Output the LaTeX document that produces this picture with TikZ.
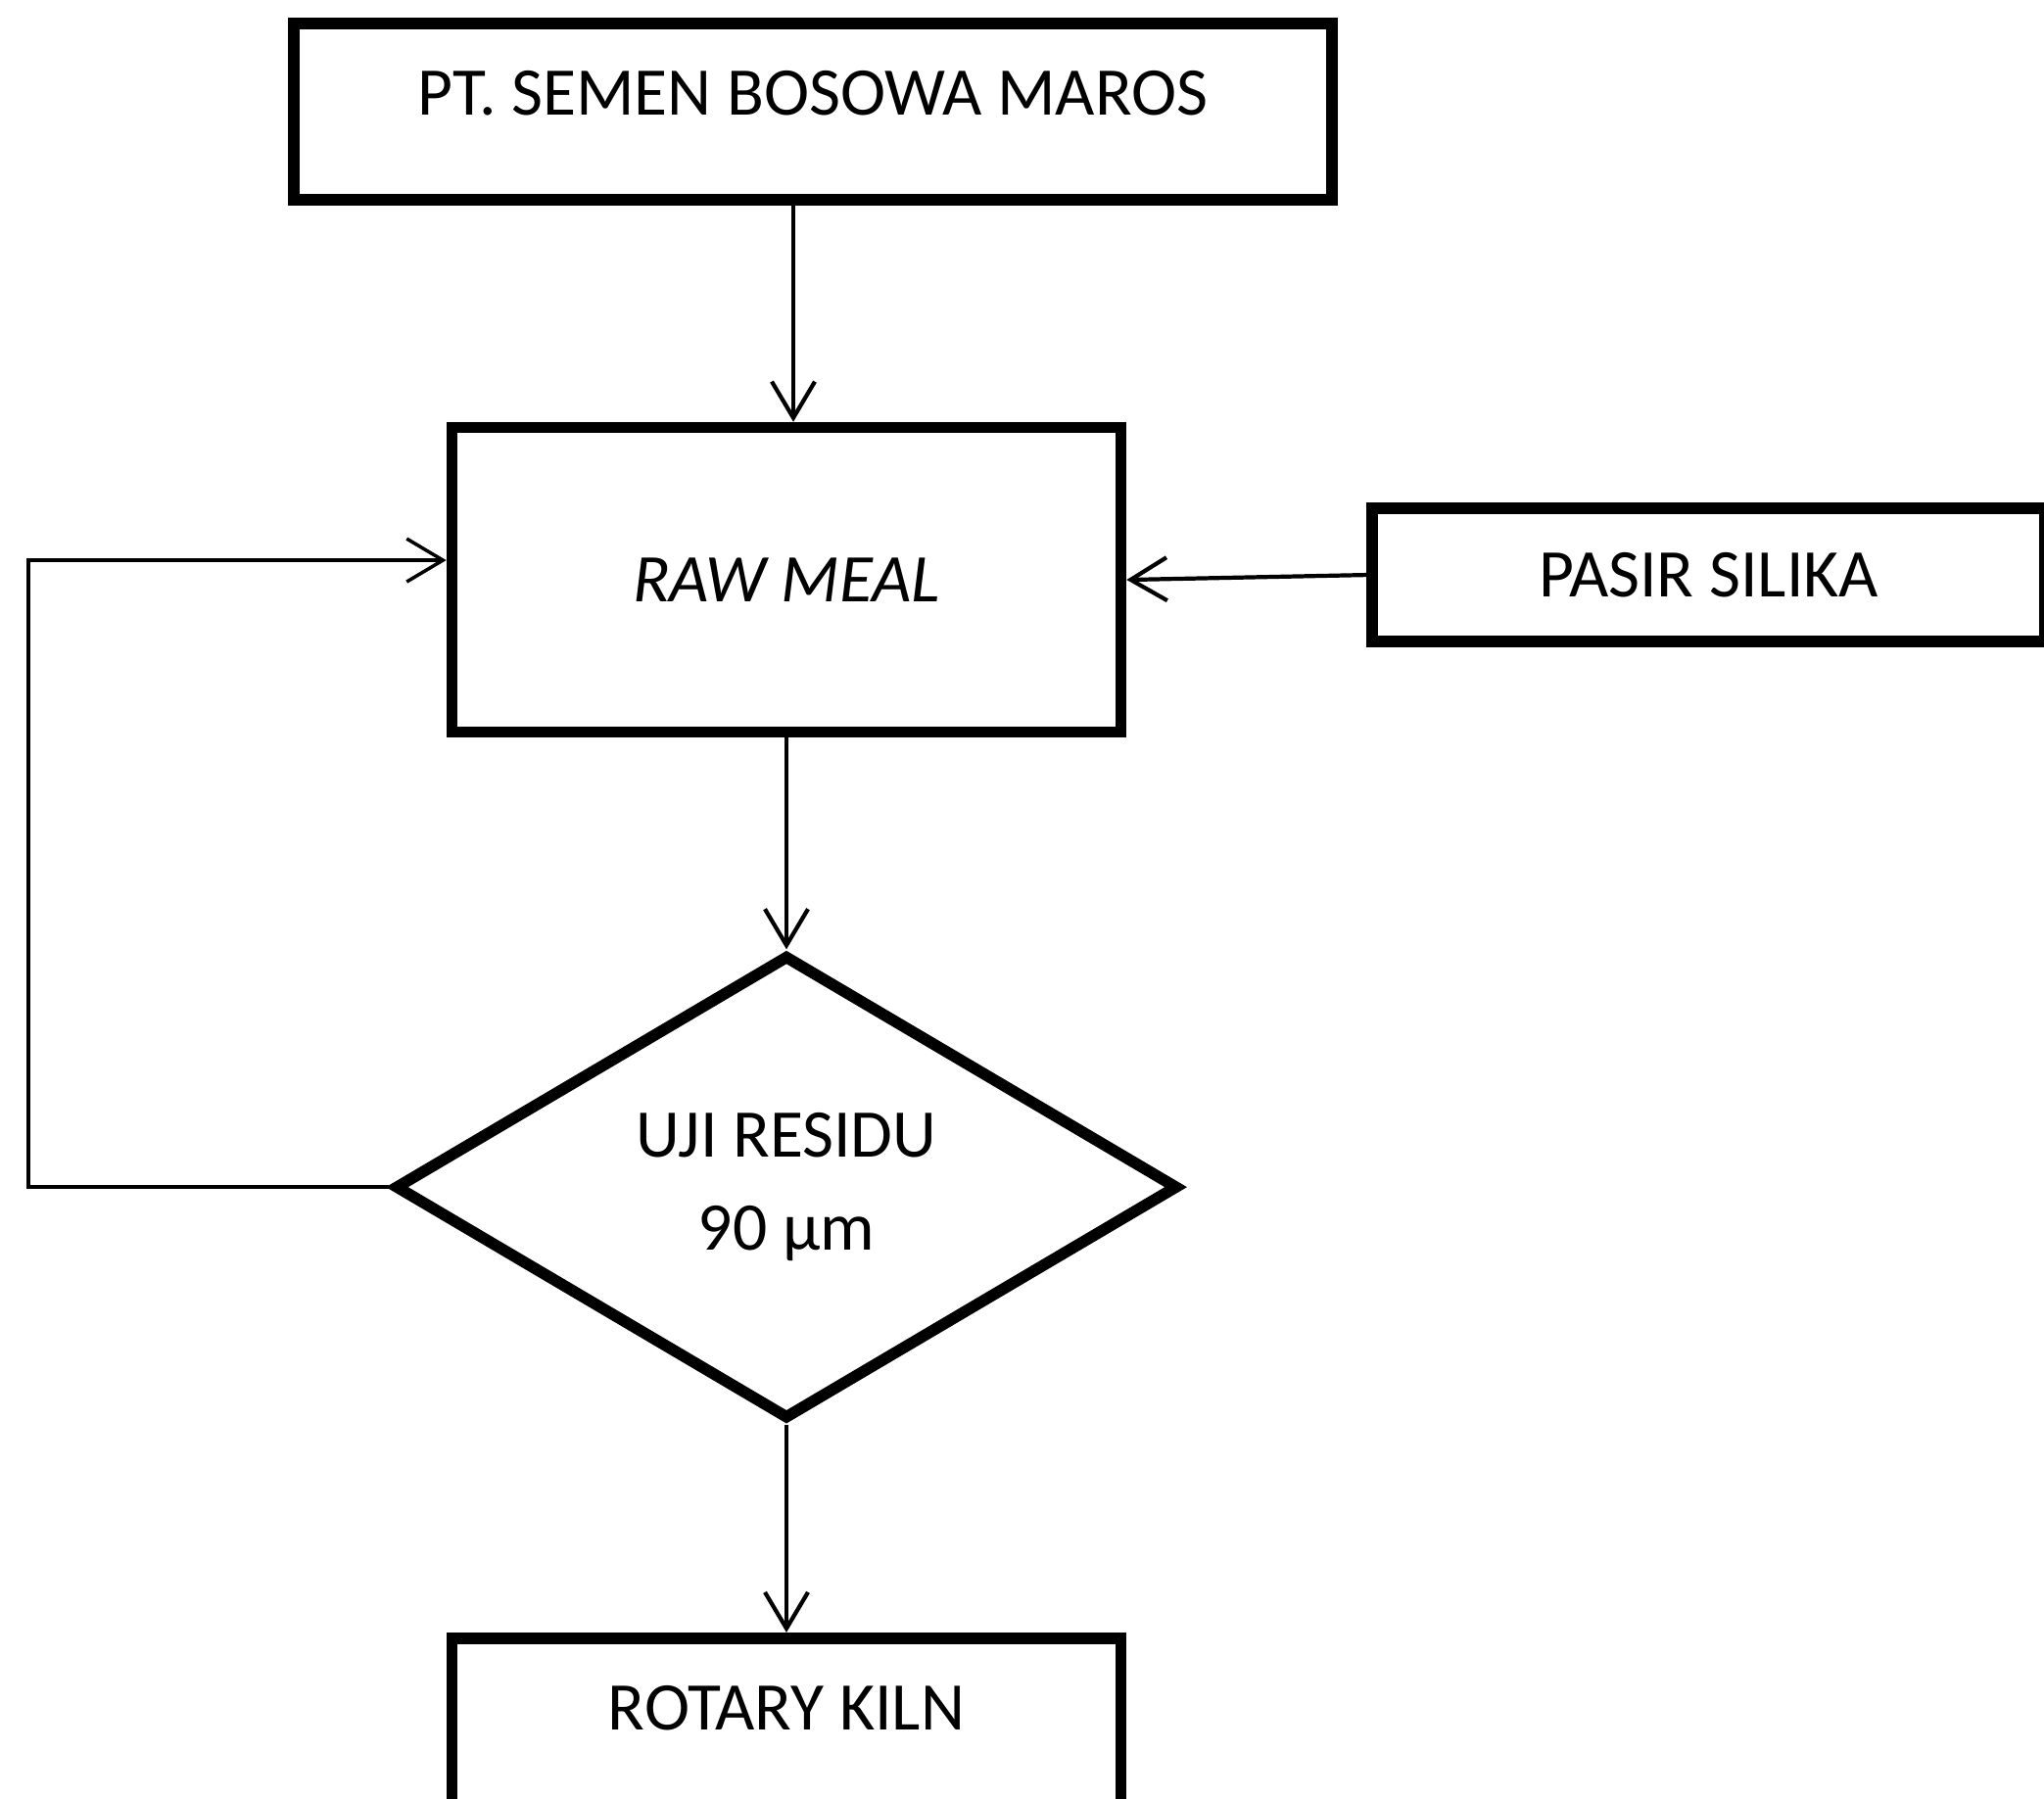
\documentclass[tikz,border=0pt]{standalone}
\usepackage{fontspec}
\setmainfont{Carlito}
\usepackage{tikz}
\usetikzlibrary{arrows.meta, positioning, shapes.geometric}

\begin{document}
\begin{tikzpicture}[
  every node/.style={font=\fontsize{19.8}{27}\selectfont, align=center},
  procbox/.style={draw, line width=3.3pt, minimum width=6.83cm, inner ysep=0pt},
  topbox/.style={procbox, text height=0.935cm, text depth=0.865cm},
  decide/.style={draw, diamond, line width=3.3pt, inner sep=0pt, minimum width=8.0cm, minimum height=4.74cm},
  arr/.style={-{Straight Barb[length=3.7mm, width=4.4mm]}, line width=1.2pt}
]

% page
\clip (0,0) rectangle (20.87,18.37);

% main column
\node[topbox, minimum width=10.6cm] (pt) at (8.30,17.23) {PT. SEMEN BOSOWA MAROS};
\node[procbox, minimum height=3.11cm, below=2.21cm of pt, xshift=-0.27cm] (raw) {\itshape RAW MEAL};
\node[procbox, minimum width=6.87cm, minimum height=1.36cm, right=2.45cm of raw, yshift=0.05cm] (silika) {PASIR SILIKA};
\node[decide, below=2.16cm of raw] (uji) {UJI RESIDU\\90 µm};
\node[topbox, below=2.12cm of uji] (kiln) {ROTARY KILN};

% feedback corner
\coordinate (fb) at (0.29,6.35);

\draw[arr] ([xshift=-0.2cm]pt.south) -- ([xshift=-0.2cm]pt.south |- raw.north);
\draw[arr] (silika.west) -- (raw.east);
\draw[arr] (raw.south) -- (raw.south |- uji.north);
\draw[arr] (uji.south) -- (uji.south |- kiln.north);
\draw[arr, line width=1pt] (uji.west) -- (uji.west -| fb) |- ([yshift=0.2cm]raw.west);

\end{tikzpicture}
\end{document}
